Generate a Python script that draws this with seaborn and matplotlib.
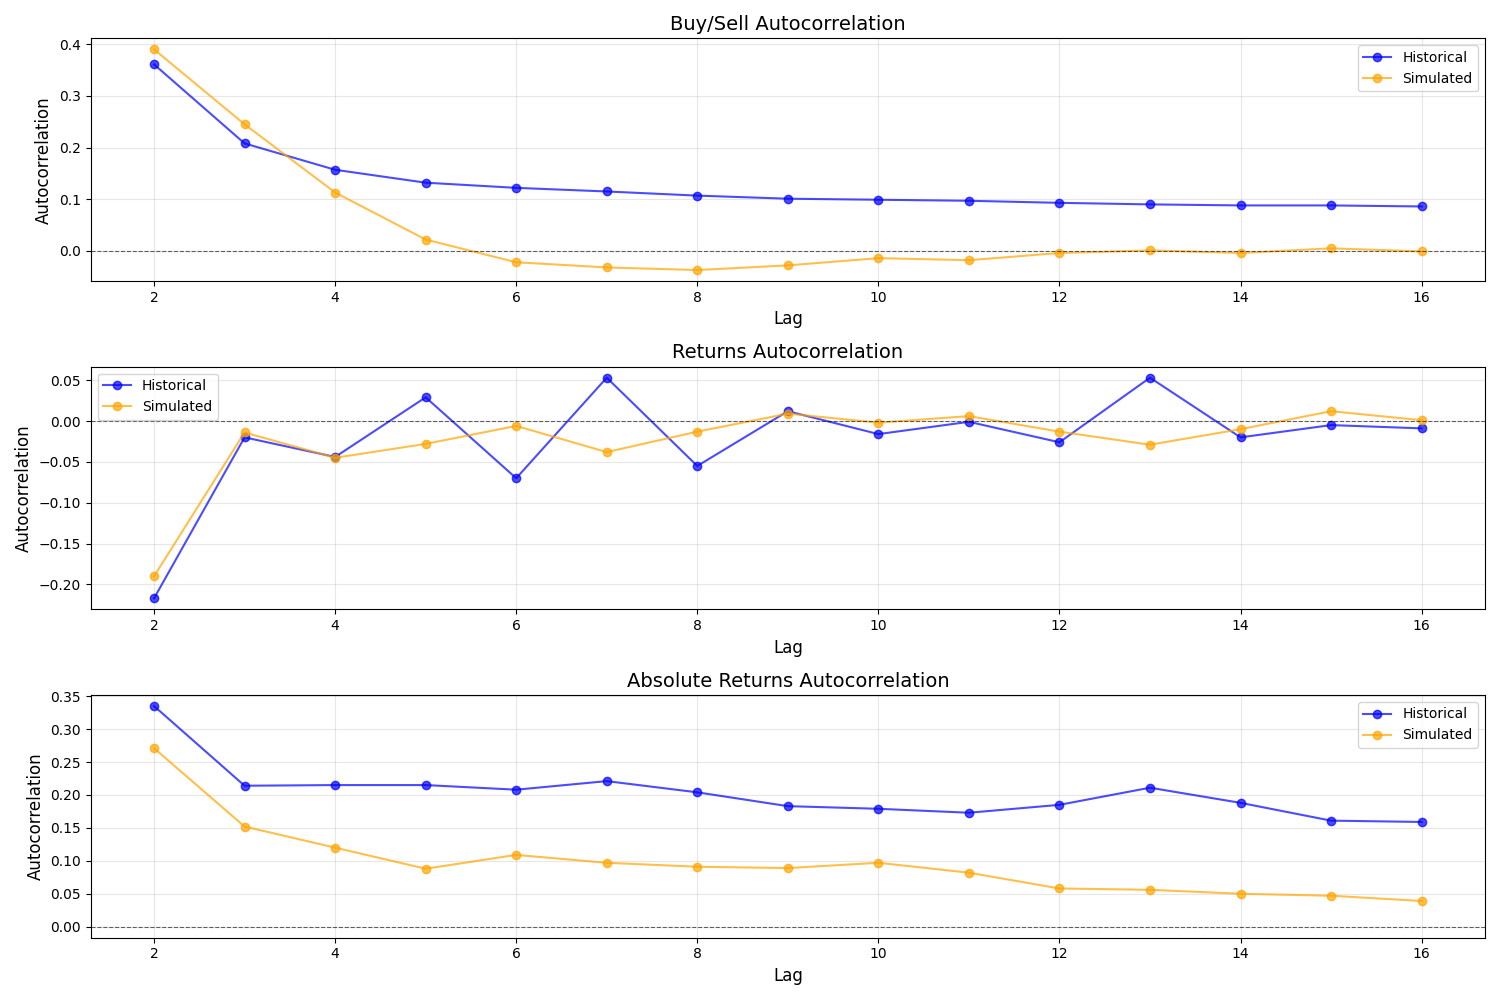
"""Autocorrelation comparison: historical vs simulated."""
import matplotlib
matplotlib.use("Agg")
import matplotlib.pyplot as plt
import seaborn as sns
import pandas as pd

lags = list(range(2, 17))

# ── Buy/Sell sign autocorrelation ────────────────────────────────────────────
buysell_hist = [0.361, 0.208, 0.157, 0.132, 0.122, 0.115, 0.107, 0.101,
                0.099, 0.097, 0.093, 0.090, 0.088, 0.088, 0.086]
buysell_sim = [0.390, 0.245, 0.113, 0.022, -0.022, -0.032, -0.037, -0.028,
               -0.014, -0.018, -0.004, 0.001, -0.004, 0.005, -0.001]

# ── Returns autocorrelation ──────────────────────────────────────────────────
returns_hist = [-0.217, -0.020, -0.044, 0.029, -0.070, 0.053, -0.055, 0.012,
                -0.016, -0.001, -0.026, 0.053, -0.020, -0.005, -0.009]
returns_sim = [-0.190, -0.014, -0.045, -0.028, -0.006, -0.038, -0.013, 0.009,
               -0.002, 0.006, -0.013, -0.029, -0.010, 0.012, 0.001]

# ── Absolute returns autocorrelation ─────────────────────────────────────────
absret_hist = [0.335, 0.214, 0.215, 0.215, 0.208, 0.221, 0.204, 0.183,
               0.179, 0.173, 0.185, 0.211, 0.188, 0.161, 0.159]
absret_sim = [0.271, 0.152, 0.120, 0.088, 0.109, 0.097, 0.091, 0.089,
              0.097, 0.082, 0.058, 0.056, 0.050, 0.047, 0.039]

panels = [
    ("Buy/Sell Autocorrelation", buysell_hist, buysell_sim, "upper right"),
    ("Returns Autocorrelation", returns_hist, returns_sim, "upper left"),
    ("Absolute Returns Autocorrelation", absret_hist, absret_sim, "upper right"),
]

fig, axes = plt.subplots(3, 1, figsize=(15, 10))

for ax, (title, hist, sim, loc) in zip(axes, panels):
    df = pd.DataFrame({"lag": lags, "hist": hist, "sim": sim})
    for col, color, label in [("hist", "blue", "Historical"), ("sim", "orange", "Simulated")]:
        sns.lineplot(
            data=df, x="lag", y=col, ax=ax, color=color, alpha=0.7,
            marker="o", markersize=6, markeredgecolor=color, markeredgewidth=1,
            label=label,
        )
    ax.axhline(0, color="black", linestyle="--", alpha=0.6, linewidth=0.8)
    ax.set_title(title, fontsize=14)
    ax.set_xlabel("Lag", fontsize=12)
    ax.set_ylabel("Autocorrelation", fontsize=12)
    ax.grid(True, alpha=0.3)
    ax.legend(loc=loc)

plt.tight_layout()
plt.savefig("out.png", dpi=100)
plt.close()
